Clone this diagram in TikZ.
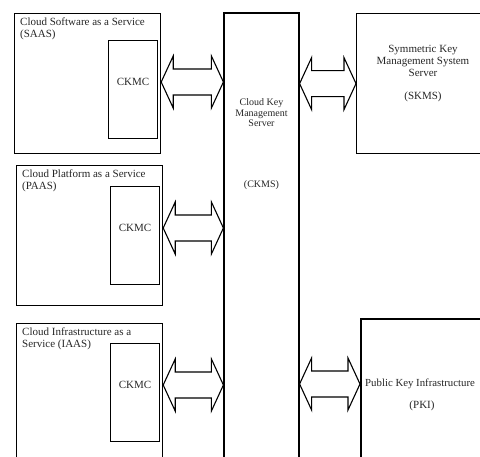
\documentclass[tikz,border=0pt]{standalone}
\usepackage{fontspec}
\setmainfont{Liberation Serif}
\usetikzlibrary{calc}

\tikzset{
  box/.style={draw, line width=1.2pt, inner sep=0pt},
  lbl/.style={inner sep=0pt, align=center, text=black!85},
  title/.style={inner sep=0pt, align=left, text=black!85,
    font=\fontsize{11}{11.5}\selectfont},
  blockarrow/.style={draw, line width=1.1pt, line join=miter},
}
% outlined two-headed block arrow from #1 (left tip) to #2 (right tip)
\newcommand{\dblarrow}[2]{%
  \draw[blockarrow] (#1) -- ++(12,-26) -- ++(0,13) -- ($(#2)+(-12,-13)$)
    -- ++(0,-13) -- (#2) -- ++(-12,26) -- ++(0,-13) -- ($(#1)+(12,13)$)
    -- ++(0,13) -- cycle;
}

\begin{document}
\begin{tikzpicture}[x=1pt, y=-1pt]
  \useasboundingbox (0,0) rectangle (480,456);

  % key management server in the middle
  \node[box, minimum width=75pt, minimum height=460pt] (ckms) at (261.5,243) {};
  \node[lbl, font=\fontsize{10}{10.5}\selectfont] (ckmsname) at (261.5,113)
    {Cloud Key\\Management\\Server};
  \node[lbl, font=\fontsize{10}{10.5}\selectfont] at (261.5,185) {(CKMS)};

  % the three cloud services, each with its client
  \foreach \nm/\xl/\yt/\yi/\ttl in {%
      saas/14/13/27/{Cloud Software as a Service\\(SAAS)},
      paas/16/165/21/{Cloud Platform as a Service\\(PAAS)},
      iaas/16/323/20/{Cloud Infrastructure as a\\Service (IAAS)}} {
    \node[box, anchor=north west, minimum width=146pt, minimum height=140pt]
      (\nm) at (\xl,\yt) {};
    \node[title, anchor=north west] at ($(\nm.north west)+(6,5)$) {\ttl};
    \node[box, anchor=north east, minimum width=49pt, minimum height=98pt]
      (ckmc-\nm) at ($(\nm.north east)+(-3,\yi)$) {};
    \node[lbl, font=\fontsize{11}{11}\selectfont] (t-\nm)
      at ($(ckmc-\nm.north)+(0,42)$) {CKMC};
    \coordinate (\nm-l) at (\nm.east |- t-\nm);
    \coordinate (\nm-r) at (ckms.west |- t-\nm);
    \dblarrow{\nm-l}{\nm-r}
  }

  % symmetric key server
  \node[box, anchor=north west, minimum width=150pt, minimum height=140pt]
    (skms) at (356,13) {};
  \node[lbl, font=\fontsize{11}{12}\selectfont] (skmsname) at (423,61)
    {Symmetric Key\\Management System\\Server};
  \node[lbl, font=\fontsize{11}{12}\selectfont] at (423,97) {(SKMS)};
  \coordinate (skms-l) at (ckms.east |- skms.west);
  \dblarrow{skms-l}{skms.west}

  % public key infrastructure
  \node[box, line width=1.8pt, anchor=north west, minimum width=150pt,
    minimum height=150pt] (pki) at (360,318) {};
  \node[lbl, anchor=west, font=\fontsize{10.8}{12}\selectfont] (pkiname)
    at (365,384) {Public Key Infrastructure};
  \node[lbl, font=\fontsize{11}{12}\selectfont] at (422,406) {(PKI)};
  \coordinate (pki-l) at (ckms.east |- pkiname);
  \coordinate (pki-r) at (pki.west |- pkiname);
  \dblarrow{pki-l}{pki-r}
\end{tikzpicture}
\end{document}
